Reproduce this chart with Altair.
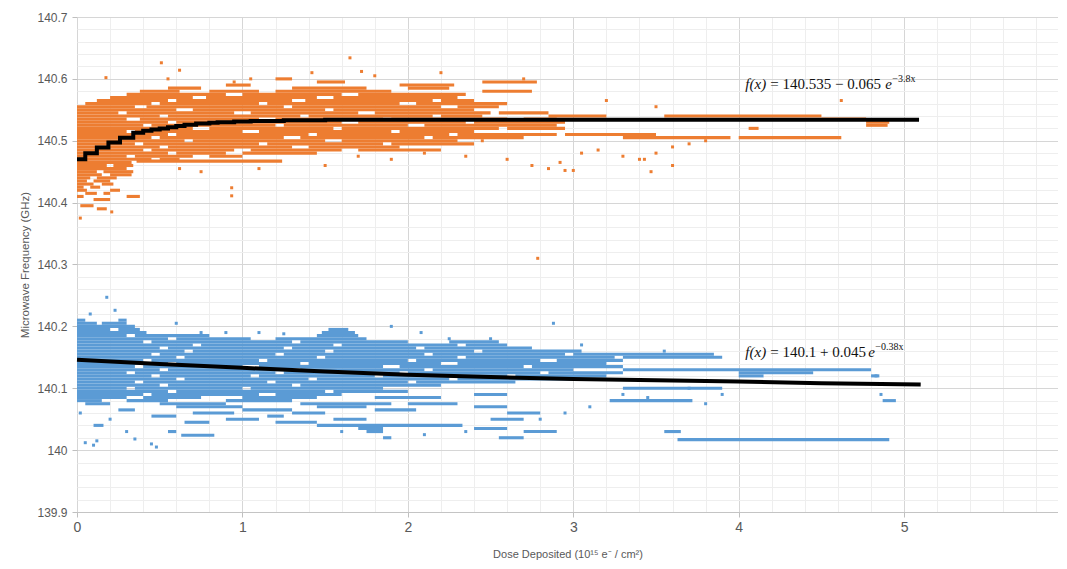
import altair as alt
import pandas as pd

# ---------------- data ----------------
# Orange series: horizontal runs of densely packed points (level y, spans of x)
OR_LEVEL = [140.600, 140.595, 140.590, 140.585, 140.580, 140.575, 140.570, 140.565,
            140.560, 140.555, 140.550, 140.545, 140.540, 140.535, 140.530, 140.525,
            140.520, 140.515, 140.510, 140.505, 140.500, 140.495, 140.490, 140.485,
            140.480, 140.475, 140.470, 140.467, 140.465, 140.460, 140.455, 140.450,
            140.445, 140.440, 140.435, 140.430, 140.425, 140.420, 140.415, 140.410,
            140.405, 140.395, 140.390]
OR_SPANS = [
    [(1.2, 1.3)],
    [(1.45, 1.62), (2.45, 2.78)],
    [(0.9, 1.05), (1.95, 2.28)],
    [(0.55, 0.75), (1.3, 1.75), (2.0, 2.25)],
    [(0.38, 0.62), (0.8, 1.1), (1.2, 1.9), (2.45, 2.75)],
    [(0.3, 0.9), (1.0, 1.6), (1.7, 2.35)],
    [(0.2, 0.7), (0.78, 1.45), (1.55, 2.3)],
    [(0.12, 0.55), (0.6, 1.3), (1.38, 2.15), (2.2, 2.4)],
    [(0.05, 0.45), (0.5, 1.1), (1.15, 1.95), (2.05, 2.6)],
    [(0.0, 0.35), (0.42, 1.25), (1.3, 2.2), (2.3, 2.55)],
    [(0.0, 0.6), (0.7, 1.5), (1.55, 2.4)],
    [(0.0, 0.25), (0.3, 0.95), (1.05, 1.7), (1.8, 2.5), (2.55, 2.85)],
    [(0.0, 0.5), (0.55, 1.35), (1.4, 2.15), (2.2, 2.45), (2.85, 3.2), (3.55, 4.5)],
    [(0.0, 0.3), (0.38, 1.1), (1.2, 1.85), (1.9, 2.6), (2.7, 2.9), (4.5, 4.77)],
    [(0.0, 0.55), (0.6, 1.6), (1.7, 2.35), (2.4, 2.95), (4.77, 4.91)],
    [(0.0, 0.4), (0.45, 1.2), (1.25, 2.0), (2.1, 2.9), (4.77, 4.9)],
    [(0.0, 0.7), (0.8, 1.55), (1.6, 2.55), (2.6, 2.95), (4.06, 4.12)],
    [(0.0, 0.3), (0.35, 1.0), (1.1, 1.9), (1.95, 2.4)],
    [(0.0, 0.55), (0.6, 1.4), (1.45, 2.25), (2.3, 2.9), (2.95, 3.5)],
    [(0.0, 0.45), (0.5, 1.25), (1.35, 2.1), (2.15, 2.7), (3.3, 3.95), (4.0, 4.62)],
    [(0.0, 0.65), (0.7, 1.5), (1.6, 2.3)],
    [(0.0, 0.35), (0.4, 1.1), (1.15, 1.85), (1.9, 2.4)],
    [(0.0, 0.5), (0.55, 1.3), (1.4, 1.95)],
    [(0.0, 0.4), (0.45, 0.95), (1.05, 1.6), (1.7, 2.2)],
    [(0.0, 0.55), (0.6, 0.9), (1.0, 1.45)],
    [(0.0, 0.3), (0.35, 0.7), (0.8, 1.0)],
    [(0.0, 0.45), (0.5, 0.62)],
    [(0.36, 1.24)],
    [(0.0, 0.33)],
    [(0.0, 0.18), (0.22, 0.34)],
    [(0.0, 0.3)],
    [(0.0, 0.12), (0.16, 0.34)],
    [(0.0, 0.15), (0.2, 0.33)],
    [(0.0, 0.08), (0.12, 0.24)],
    [(0.0, 0.06), (0.1, 0.2)],
    [(0.0, 0.1), (0.15, 0.22)],
    [(0.0, 0.04), (0.08, 0.14)],
    [(0.0, 0.06), (0.2, 0.26)],
    [(0.05, 0.12), (0.16, 0.2)],
    [(0.0, 0.04), (0.3, 0.38)],
    [(0.1, 0.2)],
    [(0.02, 0.1)],
    [(0.12, 0.18)],
]
# Orange isolated points
OR_PX = [0.02, 0.21, 0.175, 0.51, 0.62, 0.55, 0.95, 1.05, 1.42, 1.65, 1.72, 1.8, 2.2, 2.7,
         0.935, 0.935, 0.75, 0.62, 1.1, 1.5, 1.9, 1.7, 2.1, 2.35, 2.6, 2.75, 2.85, 2.95,
         3.05, 3.15, 3.3, 3.4, 3.5, 3.6, 3.7, 3.2, 3.5, 4.62, 2.45, 3.8, 2.92, 3.0, 3.43,
         3.47, 3.6, 2.785]
OR_PY = [140.375, 140.385, 140.602, 140.626, 140.614, 140.600, 140.595, 140.600, 140.610,
         140.634, 140.612, 140.605, 140.610, 140.600, 140.424, 140.411, 140.450, 140.455,
         140.455, 140.460, 140.470, 140.475, 140.480, 140.475, 140.470, 140.460, 140.455,
         140.452, 140.480, 140.485, 140.475, 140.470, 140.480, 140.490, 140.495, 140.565,
         140.555, 140.565, 140.500, 140.500, 140.465, 140.452, 140.470, 140.450, 140.460,
         140.310]

# Blue series: horizontal runs
BL_LEVEL = [140.210, 140.205, 140.200, 140.195, 140.190, 140.185, 140.180, 140.175,
            140.170, 140.165, 140.160, 140.155, 140.150, 140.145, 140.140, 140.135,
            140.130, 140.125, 140.120, 140.115, 140.110, 140.105, 140.100, 140.095,
            140.090, 140.085, 140.080, 140.075, 140.070, 140.065, 140.060, 140.055,
            140.050, 140.045, 140.040, 140.035, 140.030, 140.024, 140.020, 140.017]
BL_SPANS = [
    [(0.0, 0.05), (0.25, 0.3)],
    [(0.0, 0.12), (0.15, 0.3)],
    [(0.0, 0.35)],
    [(0.0, 0.2), (0.25, 0.38), (1.52, 1.64)],
    [(0.0, 0.42), (1.48, 1.68)],
    [(0.0, 0.3), (0.35, 0.8), (1.45, 1.7)],
    [(0.0, 0.55), (0.6, 1.05), (1.2, 1.75)],
    [(0.0, 0.4), (0.45, 1.3), (1.35, 2.0), (2.25, 2.55)],
    [(0.0, 0.7), (0.75, 1.55), (1.6, 2.3), (2.35, 2.6)],
    [(0.0, 0.5), (0.55, 1.25), (1.3, 2.05), (2.1, 2.75)],
    [(0.0, 0.65), (0.7, 1.5), (1.55, 2.4), (2.45, 3.05)],
    [(0.0, 0.45), (0.5, 1.2), (1.25, 2.1), (2.15, 2.95), (3.0, 3.85)],
    [(0.0, 0.6), (0.65, 1.45), (1.5, 2.3), (2.35, 3.25), (3.3, 3.9)],
    [(0.0, 0.4), (0.45, 1.1), (1.15, 2.0), (2.05, 2.8), (2.9, 3.3)],
    [(0.0, 0.55), (0.6, 1.35), (1.4, 2.2), (2.3, 3.2)],
    [(0.0, 0.35), (0.4, 1.0), (1.1, 1.85), (1.95, 2.7), (2.75, 3.3)],
    [(0.0, 0.5), (0.55, 1.3), (1.35, 2.1), (2.15, 3.0), (3.3, 4.8)],
    [(0.0, 0.3), (0.35, 1.2), (1.25, 1.95), (2.0, 2.8), (2.85, 3.3), (4.0, 4.45)],
    [(0.0, 0.45), (0.5, 1.05), (1.1, 1.8), (1.85, 2.6), (2.65, 3.2), (4.0, 4.15), (4.8, 4.85)],
    [(0.0, 0.6), (0.65, 1.4), (1.45, 2.25), (2.3, 3.0)],
    [(0.0, 0.35), (0.4, 1.15), (1.2, 2.0), (2.05, 2.65)],
    [(0.0, 0.5), (0.55, 1.3), (1.35, 2.2)],
    [(0.0, 0.3), (0.35, 1.0), (1.05, 1.85), (3.3, 3.9)],
    [(0.0, 0.55), (0.6, 1.5), (1.55, 2.0)],
    [(0.0, 0.4), (0.45, 1.1), (1.2, 1.6), (2.4, 2.6)],
    [(0.0, 0.3), (0.4, 0.75), (1.0, 1.45), (1.8, 2.2)],
    [(0.0, 0.15), (0.3, 0.55), (0.9, 1.3), (3.22, 3.72), (4.87, 4.95)],
    [(0.05, 0.2), (0.5, 0.9), (1.35, 1.9), (2.0, 2.3)],
    [(0.6, 1.0), (1.45, 1.75), (2.4, 2.6)],
    [(0.25, 0.35), (1.0, 1.3), (1.8, 2.05)],
    [(0.7, 0.95), (1.3, 1.5), (2.6, 2.8)],
    [(0.45, 0.6), (1.15, 1.25)],
    [(0.9, 1.1), (1.55, 1.75), (2.5, 2.7)],
    [(0.65, 0.8), (1.2, 1.45)],
    [(0.1, 0.16), (1.45, 2.33)],
    [(1.7, 1.85), (2.4, 2.6)],
    [(0.55, 0.6), (1.75, 1.85), (2.7, 2.9), (3.55, 3.65)],
    [(0.63, 0.83)],
    [(1.85, 1.9), (2.55, 2.7)],
    [(3.63, 4.91)],
]
# Blue isolated points
BL_PX = [0.18, 0.23, 0.08, 0.05, 0.1, 0.12, 0.45, 0.48, 0.3, 0.35, 0.02, 0.2, 0.6, 0.75,
         0.9, 1.1, 1.25, 1.9, 2.08, 2.25, 2.88, 2.5, 3.05, 3.55, 3.3, 3.45, 3.7, 3.8, 3.9,
         4.86, 4.83, 2.8, 2.95, 3.1, 1.6, 2.1, 2.35]
BL_PY = [140.247, 140.226, 140.220, 140.012, 140.008, 140.015, 140.010, 140.005, 140.030,
         140.018, 140.060, 140.050, 140.205, 140.190, 140.190, 140.190, 140.188, 140.200,
         140.190, 140.180, 140.205, 140.180, 140.170, 140.160, 140.090, 140.085, 140.100,
         140.075, 140.090, 140.090, 140.120, 140.050, 140.060, 140.070, 140.030, 140.025,
         140.030]

# Fitted curves
FIT_TOP_X = [0.0, 0.05, 0.12, 0.19, 0.26, 0.34, 0.4, 0.45, 0.5, 0.55, 0.6, 0.65, 0.72,
             0.8, 0.85, 0.95, 1.05, 1.25, 1.5, 5.09]
FIT_TOP_Y = [140.470, 140.480, 140.489, 140.497, 140.505, 140.513, 140.516, 140.518,
             140.520, 140.522, 140.524, 140.526, 140.528, 140.529, 140.530, 140.531,
             140.532, 140.533, 140.534, 140.534]
FIT_BOT_X = [0.0, 0.5, 1.0, 1.5, 2.0, 2.5, 3.0, 3.5, 4.0, 4.5, 5.1]
FIT_BOT_Y = [140.146, 140.139, 140.133, 140.127, 140.122, 140.118, 140.115, 140.113,
             140.111, 140.108, 140.106]

# Equation annotations
ANN_X = [4.04, 4.04]
ANN_Y = [140.584, 140.150]
ANN_MID = ["= 140.535 \u2212 0.065", "= 140.1 + 0.045"]
ANN_SUP = ["\u22123.8x", "\u22120.38x"]
ANN_MID_DX = 25
ANN_E_DX = [140, 123]
ANN_SUP_DX = [147, 130]

X_TICKS = [round(i * 0.2, 1) for i in range(0, 30)]
Y_TICKS = [round(139.9 + i * 0.02, 2) for i in range(41)]

# ---------------- tables ----------------
def runs(levels, spans):
    rows = []
    for y, sp in zip(levels, spans):
        for a, b in sp:
            rows.append({"x0": a, "x1": b, "y": y})
    return pd.DataFrame(rows)

assert len(OR_LEVEL) == len(OR_SPANS) and len(BL_LEVEL) == len(BL_SPANS)
or_runs = runs(OR_LEVEL, OR_SPANS)
bl_runs = runs(BL_LEVEL, BL_SPANS)
or_pts = pd.DataFrame({"x": OR_PX, "y": OR_PY})
bl_pts = pd.DataFrame({"x": BL_PX, "y": BL_PY})
fit_top = pd.DataFrame({"x": FIT_TOP_X, "y": FIT_TOP_Y})
fit_bot = pd.DataFrame({"x": FIT_BOT_X, "y": FIT_BOT_Y})
ann = pd.DataFrame({"x": ANN_X, "y": ANN_Y, "mid": ANN_MID, "sup": ANN_SUP})

ORANGE = "#ED7D31"
BLUE = "#5B9BD5"
GREY = "#595959"

xs = alt.Scale(domain=[0, 5.93], nice=False, zero=False)
ys = alt.Scale(domain=[139.9, 140.7], nice=False, zero=False)

x_major = "abs(datum.value - round(datum.value)) < 0.001"
y_major = "abs(datum.value * 10 - round(datum.value * 10)) < 0.001"

x_axis = alt.Axis(
    values=X_TICKS, grid=True,
    gridColor={"condition": {"test": x_major, "value": "#d6d6d6"}, "value": "#eeeeee"},
    tickColor="#bfbfbf",
    tickOpacity={"condition": {"test": x_major, "value": 1}, "value": 0},
    tickSize=5, domain=True, domainColor="#c4c4c4",
    labelExpr=f"{x_major} ? format(datum.value, 'd') : ''",
    labelFont="Liberation Sans", labelFontSize=14, labelColor=GREY, labelPadding=3,
    labelOverlap=False, labelFlush=False, labelBound=False,
    title="Dose Deposited  (10\u00b9\u2075 e\u207b / cm\u00b2)",
    titleFont="Liberation Sans", titleFontSize=11, titleFontWeight="normal",
    titleColor=GREY, titlePadding=14,
)
y_axis = alt.Axis(
    values=Y_TICKS, grid=True,
    gridColor={"condition": {"test": y_major, "value": "#d6d6d6"}, "value": "#eeeeee"},
    tickColor="#bfbfbf",
    tickOpacity={"condition": {"test": y_major, "value": 1}, "value": 0},
    tickSize=5, domain=False,
    labelExpr=f"{y_major} ? format(datum.value, '~f') : ''",
    labelFont="Liberation Sans", labelFontSize=12, labelColor=GREY, labelPadding=5,
    labelOverlap=False, labelBound=False,
    title="Microwave Frequency (GHz)",
    titleFont="Liberation Sans", titleFontSize=11.5, titleFontWeight="normal",
    titleColor=GREY, titlePadding=6,
)

X = lambda f: alt.X(f, scale=xs, axis=x_axis)
Y = lambda f: alt.Y(f, scale=ys, axis=y_axis)

RUN_W = 3.1
blue_runs = alt.Chart(bl_runs).mark_rule(color=BLUE, strokeWidth=RUN_W, strokeCap="butt").encode(
    x=X("x0:Q"), x2="x1:Q", y=Y("y:Q"))
blue_pts = alt.Chart(bl_pts).mark_square(color=BLUE, size=9, opacity=1).encode(
    x=X("x:Q"), y=Y("y:Q"))
orange_runs = alt.Chart(or_runs).mark_rule(color=ORANGE, strokeWidth=RUN_W, strokeCap="butt").encode(
    x=X("x0:Q"), x2="x1:Q", y=Y("y:Q"))
orange_pts = alt.Chart(or_pts).mark_square(color=ORANGE, size=9, opacity=1).encode(
    x=X("x:Q"), y=Y("y:Q"))
line_top = alt.Chart(fit_top).mark_line(color="black", strokeWidth=4, interpolate="step-after").encode(
    x=X("x:Q"), y=Y("y:Q"))
line_bot = alt.Chart(fit_bot).mark_line(color="black", strokeWidth=4).encode(
    x=X("x:Q"), y=Y("y:Q"))

SERIF = "Liberation Serif"
INK = "#111111"
ann0 = ann.iloc[[0]]
ann1 = ann.iloc[[1]]
t_fx = alt.Chart(ann).mark_text(align="left", baseline="alphabetic", font=SERIF, fontSize=15,
                                fontStyle="italic", color=INK).encode(
    x=X("x:Q"), y=Y("y:Q"), text=alt.value("f(x)"))
t_mid = alt.Chart(ann).mark_text(align="left", baseline="alphabetic", font=SERIF, fontSize=15,
                                 dx=ANN_MID_DX, color=INK).encode(
    x=X("x:Q"), y=Y("y:Q"), text="mid:N")
t_e1 = alt.Chart(ann0).mark_text(align="left", baseline="alphabetic", font=SERIF, fontSize=15,
                                 fontStyle="italic", dx=ANN_E_DX[0], color=INK).encode(
    x=X("x:Q"), y=Y("y:Q"), text=alt.value("e"))
t_e2 = alt.Chart(ann1).mark_text(align="left", baseline="alphabetic", font=SERIF, fontSize=15,
                                 fontStyle="italic", dx=ANN_E_DX[1], color=INK).encode(
    x=X("x:Q"), y=Y("y:Q"), text=alt.value("e"))
t_s1 = alt.Chart(ann0).mark_text(align="left", baseline="alphabetic", font=SERIF, fontSize=10,
                                 dx=ANN_SUP_DX[0], dy=-7, color=INK).encode(
    x=X("x:Q"), y=Y("y:Q"), text="sup:N")
t_s2 = alt.Chart(ann1).mark_text(align="left", baseline="alphabetic", font=SERIF, fontSize=10,
                                 dx=ANN_SUP_DX[1], dy=-7, color=INK).encode(
    x=X("x:Q"), y=Y("y:Q"), text="sup:N")

chart = alt.layer(
    blue_runs, blue_pts, orange_runs, orange_pts, line_top, line_bot,
    t_fx, t_mid, t_e1, t_e2, t_s1, t_s2,
).properties(
    width=981, height=495,
    autosize=alt.AutoSizeParams(type="none"),
    padding={"left": 69, "top": 9, "right": 0, "bottom": 49},
    background="white",
).configure_view(stroke=None)

chart.save("out.html", embed_options={"renderer": "svg", "actions": False})
